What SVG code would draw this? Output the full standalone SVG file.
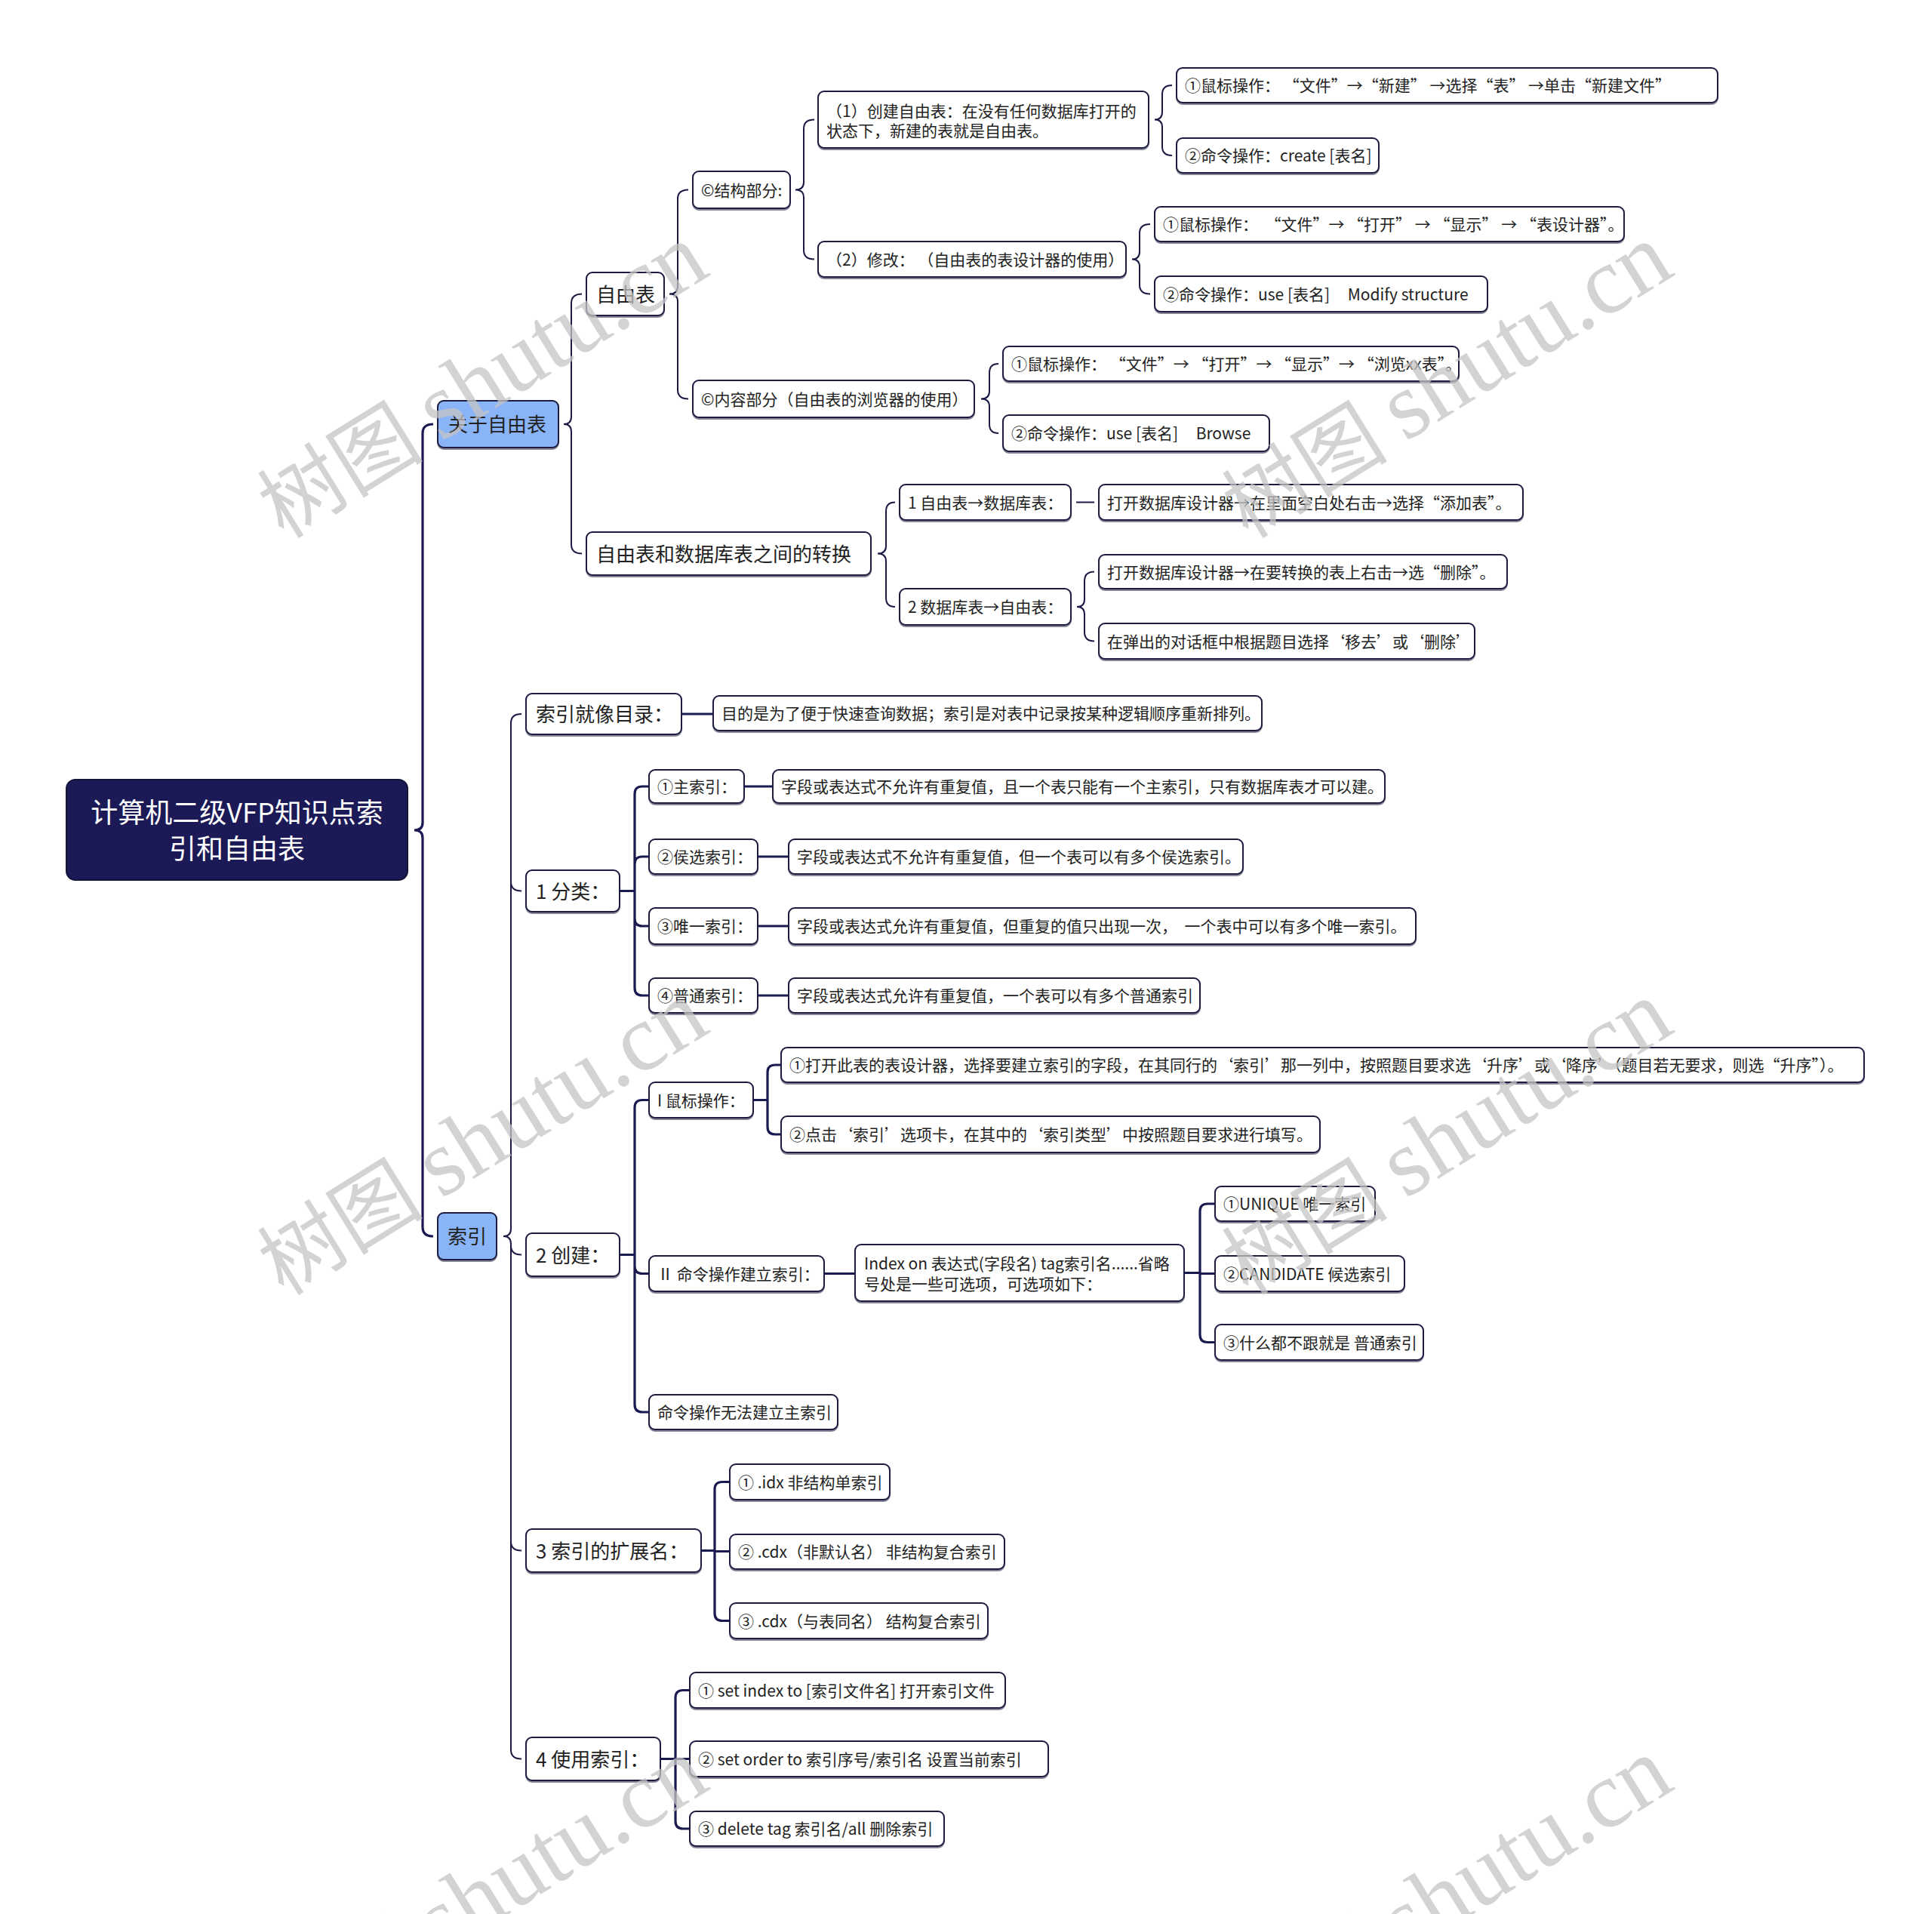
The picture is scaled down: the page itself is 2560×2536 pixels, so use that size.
<svg xmlns="http://www.w3.org/2000/svg" width="2560" height="2536" viewBox="0 0 2560 2536" xml:space="preserve">
<style>
.box{fill:#ffffff;stroke:#1a1a40;stroke-width:2;filter:url(#sh)}
.l1{fill:#8ab4f8}
.root{fill:#1b1a57;stroke:#141438;stroke-width:2}
.t{font-family:'Noto Sans CJK SC','Noto Sans',sans-serif;font-size:21px;fill:#222222;white-space:pre}
.t26{font-size:26px}
.tr{font-family:'Noto Sans CJK SC','Noto Sans',sans-serif;font-size:36px;fill:#ffffff;text-anchor:middle}
.brace{fill:none;stroke:#1a1a45;stroke-width:2}
.thick{fill:none;stroke:#1b1a50;stroke-width:3.2}
.wm{font-family:'Noto Sans CJK SC',serif;font-size:110px;fill:#c4c4c4;fill-opacity:0.75;white-space:pre}
.wl{font-family:'Liberation Serif',serif;font-size:126px}
</style>
<defs>
<filter id="sh" x="-5%" y="-10%" width="110%" height="130%">
<feDropShadow dx="0" dy="2" stdDeviation="0.7" flood-color="#1a1a40" flood-opacity="0.55"/>
</filter>
</defs>
<rect x="0" y="0" width="2560" height="2536" fill="#ffffff"/>

<g id="connectors">
<path class="thick" d="M574,562 Q560,562 560,574 L560,1090 Q560,1100 549,1100 Q560,1100 560,1110 L560,1626 Q560,1638 574,1638"/>
<path class="brace" d="M771,389.5 Q757,389.5 757,401.5 L757,552 Q757,562 747,562 Q757,562 757,572 L757,721.5 Q757,733.5 771,733.5"/>
<path class="brace" d="M912,251.5 Q898,251.5 898,263.5 L898,379.5 Q898,389.5 887,389.5 Q898,389.5 898,399.5 L898,516.5 Q898,528.5 912,528.5"/>
<path class="brace" d="M1079,158.5 Q1065,158.5 1065,170.5 L1065,241.5 Q1065,251.5 1054,251.5 Q1065,251.5 1065,261.5 L1065,331.5 Q1065,343.5 1079,343.5"/>
<path class="brace" d="M1553,113 Q1540,113 1540,125 L1540,148.5 Q1540,158.5 1530,158.5 Q1540,158.5 1540,168.5 L1540,194 Q1540,206 1553,206"/>
<path class="brace" d="M1524,297 Q1510,297 1510,309 L1510,333.5 Q1510,343.5 1500,343.5 Q1510,343.5 1510,353.5 L1510,377.5 Q1510,389.5 1524,389.5"/>
<path class="brace" d="M1323,482 Q1311,482 1311,494 L1311,518.5 Q1311,528.5 1300,528.5 Q1311,528.5 1311,538.5 L1311,562 Q1311,574 1323,574"/>
<path class="brace" d="M1186,665.5 Q1174,665.5 1174,677.5 L1174,723.5 Q1174,733.5 1163,733.5 Q1174,733.5 1174,743.5 L1174,792 Q1174,804 1186,804"/>
<path class="brace" d="M1426,665.5 H1450"/>
<path class="brace" d="M1450,757.5 Q1437,757.5 1437,769.5 L1437,794 Q1437,804 1427,804 Q1437,804 1437,814 L1437,837.5 Q1437,849.5 1450,849.5"/>
<path class="brace" d="M691,946 Q677,946 677,958 L677,1628 Q677,1638 667,1638 Q677,1638 677,1648 L677,2318.5 Q677,2330.5 691,2330.5 M677,1168.5 Q677,1180.5 691,1180.5 M677,1650.5 Q677,1662.5 691,1662.5 M677,2042.5 Q677,2054.5 691,2054.5"/>
<path class="thick" d="M903,946 H945"/>
<path class="thick" d="M821,1180.5 H841 M841,1180.5 V1052 Q841,1042 851,1042 H860 M841,1180.5 V1145 Q841,1135 851,1135 H860 M841,1180.5 V1217 Q841,1227 851,1227 H860 M841,1180.5 V1309 Q841,1319 851,1319 H860"/>
<path class="thick" d="M986,1042 H1024 M1004,1135 H1045 M1004,1227 H1045 M1004,1319 H1045"/>
<path class="thick" d="M821,1662.5 H841 M841,1662.5 V1467.5 Q841,1457.5 851,1457.5 H860 M841,1662.5 V1677.5 Q841,1687.5 851,1687.5 H860 M841,1662.5 V1861 Q841,1871 851,1871 H860"/>
<path class="thick" d="M998,1457.5 H1017 M1017,1457.5 V1421 Q1017,1411 1027,1411 H1035 M1017,1457.5 V1493 Q1017,1503 1027,1503 H1035"/>
<path class="thick" d="M1092,1687.5 H1133"/>
<path class="thick" d="M1569,1686.5 H1590 M1590,1686.5 V1605 Q1590,1595 1600,1595 H1610 M1590,1687.5 H1610 M1590,1686.5 V1768.5 Q1590,1778.5 1600,1778.5 H1610"/>
<path class="thick" d="M929,2054.5 H947 M947,2054.5 V1973.5 Q947,1963.5 957,1963.5 H967 M947,2055.5 H967 M947,2054.5 V2137.5 Q947,2147.5 957,2147.5 H967"/>
<path class="thick" d="M875,2330.5 H895 M895,2330.5 V2249.5 Q895,2239.5 905,2239.5 H914 M895,2330.5 H914 M895,2330.5 V2413 Q895,2423 905,2423 H914"/>
</g>

<g id="n-root"><rect class="root" x="88" y="1033" width="452" height="133" rx="12"/><text class="tr" x="314" y="1090">计算机二级VFP知识点索</text><text class="tr" x="314" y="1138">引和自由表</text></g>

<g id="n-about"><rect class="box l1" x="580" y="531" width="160" height="62" rx="8"/><text class="t t26" x="594" y="572">关于自由表</text></g>
<g id="n-index"><rect class="box l1" x="580" y="1607" width="78" height="62" rx="8"/><text class="t t26" x="593" y="1648">索引</text></g>

<g id="n-free"><rect class="box" x="777" y="361" width="103" height="57" rx="8"/><text class="t t26" x="790" y="399.5">自由表</text></g>
<g id="n-conv"><rect class="box" x="777" y="705" width="377" height="57" rx="8"/><text class="t t26" x="790" y="743.5">自由表和数据库表之间的转换</text></g>

<g id="n-struct"><rect class="box" x="918" y="227" width="129" height="49" rx="8"/><text class="t" x="929" y="259.5">©结构部分:</text></g>
<g id="n-content"><rect class="box" x="918" y="504" width="373" height="49" rx="8"/><text class="t" x="929" y="536.5">©内容部分（自由表的浏览器的使用）</text></g>

<g id="n-create"><rect class="box" x="1084" y="121" width="438" height="75" rx="8"/><text class="t" x="1095" y="155">（1）创建自由表：在没有任何数据库打开的</text><text class="t" x="1095" y="181">状态下，新建的表就是自由表。</text></g>
<g id="n-modify"><rect class="box" x="1084" y="320" width="408" height="47" rx="8"/><text class="t" x="1095" y="351.5">（2）修改： （自由表的表设计器的使用）</text></g>

<g id="n-c1"><rect class="box" x="1559" y="90" width="717" height="46" rx="8"/><text class="t" x="1570" y="121">①鼠标操作： “文件”→“新建” →选择“表” →单击“新建文件”</text></g>
<g id="n-c2"><rect class="box" x="1559" y="183" width="268" height="46" rx="8"/><text class="t" x="1570" y="214">②命令操作：create [表名]</text></g>
<g id="n-m1"><rect class="box" x="1530" y="274" width="622" height="46" rx="8"/><text class="t" x="1541" y="305">①鼠标操作：  “文件”→ “打开” → “显示” → “表设计器”。</text></g>
<g id="n-m2"><rect class="box" x="1530" y="366" width="441" height="47" rx="8"/><text class="t" x="1541" y="397.5">②命令操作：use [表名]     Modify structure</text></g>
<g id="n-b1"><rect class="box" x="1329" y="459" width="604" height="46" rx="8"/><text class="t" x="1340" y="490">①鼠标操作： “文件”→ “打开”→ “显示”→ “浏览xx表”。</text></g>
<g id="n-b2"><rect class="box" x="1329" y="550" width="353" height="48" rx="8"/><text class="t" x="1340" y="582">②命令操作：use [表名]     Browse</text></g>

<g id="n-f2d"><rect class="box" x="1192" y="642" width="227" height="47" rx="8"/><text class="t" x="1203" y="673.5">1 自由表→数据库表：</text></g>
<g id="n-f2d-a"><rect class="box" x="1456" y="642" width="562" height="47" rx="8"/><text class="t" x="1467" y="673.5">打开数据库设计器→在里面空白处右击→选择“添加表”。</text></g>
<g id="n-d2f"><rect class="box" x="1192" y="780" width="227" height="48" rx="8"/><text class="t" x="1203" y="812">2 数据库表→自由表：</text></g>
<g id="n-d2f-a"><rect class="box" x="1456" y="735" width="541" height="45" rx="8"/><text class="t" x="1467" y="765.5">打开数据库设计器→在要转换的表上右击→选“删除”。</text></g>
<g id="n-d2f-b"><rect class="box" x="1456" y="826" width="498" height="47" rx="8"/><text class="t" x="1467" y="857.5">在弹出的对话框中根据题目选择‘移去’或‘删除’</text></g>

<g id="n-catalog"><rect class="box" x="697" y="919" width="206" height="54" rx="8"/><text class="t t26" x="710" y="956">索引就像目录：</text></g>
<g id="n-catalog-a"><rect class="box" x="945" y="922" width="727" height="46" rx="8"/><text class="t" x="956" y="953">目的是为了便于快速查询数据；索引是对表中记录按某种逻辑顺序重新排列。</text></g>

<g id="n-class"><rect class="box" x="697" y="1153" width="124" height="55" rx="8"/><text class="t t26" x="710" y="1190.5">1 分类：</text></g>
<g id="n-pk"><rect class="box" x="860" y="1020" width="126" height="44" rx="8"/><text class="t" x="871" y="1050">①主索引：</text></g>
<g id="n-pk-a"><rect class="box" x="1024" y="1020" width="811" height="44" rx="8"/><text class="t" x="1035" y="1050">字段或表达式不允许有重复值，且一个表只能有一个主索引，只有数据库表才可以建。</text></g>
<g id="n-ck"><rect class="box" x="860" y="1112" width="144" height="46" rx="8"/><text class="t" x="871" y="1143">②侯选索引：</text></g>
<g id="n-ck-a"><rect class="box" x="1045" y="1112" width="602" height="46" rx="8"/><text class="t" x="1056" y="1143">字段或表达式不允许有重复值，但一个表可以有多个侯选索引。</text></g>
<g id="n-uk"><rect class="box" x="860" y="1203" width="144" height="48" rx="8"/><text class="t" x="871" y="1235">③唯一索引：</text></g>
<g id="n-uk-a"><rect class="box" x="1045" y="1203" width="831" height="48" rx="8"/><text class="t" x="1056" y="1235">字段或表达式允许有重复值，但重复的值只出现一次，  一个表中可以有多个唯一索引。</text></g>
<g id="n-nk"><rect class="box" x="860" y="1296" width="144" height="46" rx="8"/><text class="t" x="871" y="1327">④普通索引：</text></g>
<g id="n-nk-a"><rect class="box" x="1045" y="1296" width="545" height="46" rx="8"/><text class="t" x="1056" y="1327">字段或表达式允许有重复值，一个表可以有多个普通索引</text></g>

<g id="n-build"><rect class="box" x="697" y="1634" width="124" height="57" rx="8"/><text class="t t26" x="710" y="1672.5">2 创建：</text></g>
<g id="n-mouse"><rect class="box" x="860" y="1434" width="138" height="47" rx="8"/><text class="t" x="871" y="1465.5">I 鼠标操作：</text></g>
<g id="n-mouse-1"><rect class="box" x="1035" y="1388" width="1435" height="46" rx="8"/><text class="t" x="1046" y="1419">①打开此表的表设计器，选择要建立索引的字段，在其同行的‘索引’那一列中，按照题目要求选‘升序’或‘降序’（题目若无要求，则选“升序”）。</text></g>
<g id="n-mouse-2"><rect class="box" x="1035" y="1479" width="714" height="48" rx="8"/><text class="t" x="1046" y="1511">②点击‘索引’选项卡，在其中的‘索引类型’中按照题目要求进行填写。</text></g>
<g id="n-cmd"><rect class="box" x="860" y="1664" width="232" height="47" rx="8"/><text class="t" x="871" y="1695.5">Ⅱ 命令操作建立索引：</text></g>
<g id="n-cmd-a"><rect class="box" x="1133" y="1649" width="436" height="75" rx="8"/><text class="t" x="1145" y="1682">Index on 表达式(字段名) tag索引名......省略</text><text class="t" x="1145" y="1709">号处是一些可选项，可选项如下：</text></g>
<g id="n-opt1"><rect class="box" x="1610" y="1572" width="212" height="46" rx="8"/><text class="t" x="1621" y="1603">①UNIQUE 唯一索引</text></g>
<g id="n-opt2"><rect class="box" x="1610" y="1664" width="251" height="47" rx="8"/><text class="t" x="1621" y="1695.5">②CANDIDATE 候选索引</text></g>
<g id="n-opt3"><rect class="box" x="1610" y="1755" width="276" height="47" rx="8"/><text class="t" x="1621" y="1786.5">③什么都不跟就是 普通索引</text></g>
<g id="n-nopk"><rect class="box" x="860" y="1848" width="250" height="46" rx="8"/><text class="t" x="871" y="1879">命令操作无法建立主索引</text></g>

<g id="n-ext"><rect class="box" x="697" y="2026" width="232" height="57" rx="8"/><text class="t t26" x="710" y="2064.5">3 索引的扩展名：</text></g>
<g id="n-ext1"><rect class="box" x="967" y="1940" width="212" height="47" rx="8"/><text class="t" x="978" y="1971.5">① .idx 非结构单索引</text></g>
<g id="n-ext2"><rect class="box" x="967" y="2033" width="364" height="46" rx="8"/><text class="t" x="978" y="2064">② .cdx（非默认名） 非结构复合索引</text></g>
<g id="n-ext3"><rect class="box" x="967" y="2124" width="342" height="47" rx="8"/><text class="t" x="978" y="2155.5">③ .cdx（与表同名） 结构复合索引</text></g>

<g id="n-use"><rect class="box" x="697" y="2302" width="178" height="57" rx="8"/><text class="t t26" x="710" y="2340.5">4 使用索引：</text></g>
<g id="n-use1"><rect class="box" x="914" y="2216" width="418" height="47" rx="8"/><text class="t" x="925" y="2247.5">① set index to [索引文件名] 打开索引文件</text></g>
<g id="n-use2"><rect class="box" x="914" y="2307" width="475" height="47" rx="8"/><text class="t" x="925" y="2338.5">② set order to 索引序号/索引名 设置当前索引</text></g>
<g id="n-use3"><rect class="box" x="914" y="2400" width="337" height="46" rx="8"/><text class="t" x="925" y="2431">③ delete tag 索引名/all 删除索引</text></g>

<g id="watermark">
<text class="wm" transform="translate(376,715) rotate(-31.8)">树图 <tspan class="wl">shutu.cn</tspan></text>
<text class="wm" transform="translate(1654,715) rotate(-31.8)">树图 <tspan class="wl">shutu.cn</tspan></text>
<text class="wm" transform="translate(376,1718) rotate(-31.8)">树图 <tspan class="wl">shutu.cn</tspan></text>
<text class="wm" transform="translate(1654,1718) rotate(-31.8)">树图 <tspan class="wl">shutu.cn</tspan></text>
<text class="wm" transform="translate(376,2721) rotate(-31.8)">树图 <tspan class="wl">shutu.cn</tspan></text>
<text class="wm" transform="translate(1654,2721) rotate(-31.8)">树图 <tspan class="wl">shutu.cn</tspan></text>
</g>
</svg>
